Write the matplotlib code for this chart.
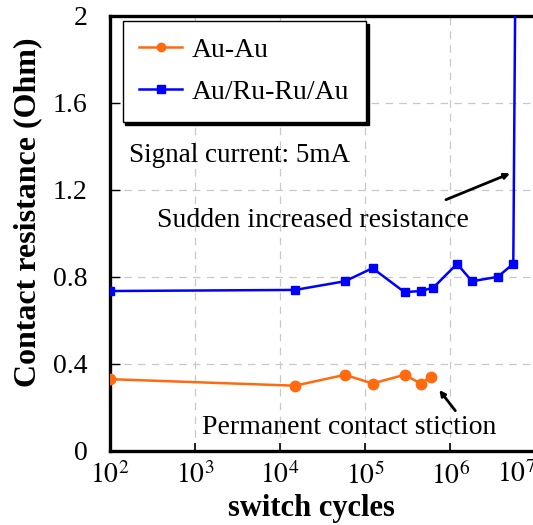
import matplotlib
matplotlib.use("Agg")
import matplotlib.pyplot as plt
import numpy as np

# data
cycles_au = [1e2, 1.5e4, 5.8e4, 1.22e5, 2.9e5, 4.5e5, 5.9e5]
res_au = [0.33, 0.30, 0.35, 0.31, 0.35, 0.31, 0.34]

cycles_ru = [1e2, 1.5e4, 5.8e4, 1.22e5, 2.9e5, 4.5e5, 6.3e5, 1.2e6, 1.8e6, 3.6e6, 5.5e6]
res_ru = [0.735, 0.74, 0.78, 0.84, 0.73, 0.735, 0.75, 0.86, 0.78, 0.80, 0.86]
# sudden rise at the end (no markers)
spike_cycles = [5.5e6, 5.65e6, 5.8e6]
spike_res = [0.86, 1.5, 2.1]

y_ticks = [0, 0.4, 0.8, 1.2, 1.6, 2.0]
y_labels = ["0", "0.4", "0.8", "1.2", "1.6", "2"]
x_ticks = [1e2, 1e3, 1e4, 1e5, 1e6, 1e7]
x_labels = ["$10^2$", "$10^3$", "$10^4$", "$10^5$", "$10^6$", ""]

orange = "#ff6a0e"
blue = "#0000ff"

plt.rcParams["font.family"] = ["Liberation Serif", "DejaVu Serif"]
plt.rcParams["mathtext.fontset"] = "stix"

fig = plt.figure(figsize=(5.33, 5.25), dpi=100)
ax = fig.add_axes([0.206, 0.141, 0.7985, 0.829])

ax.plot(cycles_au, res_au, color=orange, lw=1.8, marker="o", ms=7.5,
        label="Au-Au", zorder=3)
ax.plot(cycles_ru, res_ru, color=blue, lw=1.8, marker="s", ms=6.2,
        label="Au/Ru-Ru/Au", zorder=3)
ax.plot(spike_cycles, spike_res, color=blue, lw=1.8, zorder=3)

ax.set_xscale("log")
ax.set_xlim(1e2, 1e7)
ax.set_ylim(0, 2)
ax.set_xticks(x_ticks)
ax.set_xticklabels(x_labels)
ax.set_yticks(y_ticks)
ax.set_yticklabels(y_labels)

ax.grid(True, which="major", color="#c8c8c8", ls=(0, (6, 5)), lw=0.9)
ax.set_axisbelow(True)

for side in ["left", "bottom", "top"]:
    ax.spines[side].set_linewidth(2.4)
ax.spines["right"].set_visible(False)

ax.tick_params(axis="x", which="major", direction="in", length=6, width=1.2,
               labelsize=20, pad=8)
ax.tick_params(axis="x", which="minor", direction="in", length=4, width=1.0)
ax.tick_params(axis="y", which="major", direction="in", length=7, width=1.0,
               labelsize=20, pad=16)

# the 10^7 label sits squeezed against the right edge in the original
fig.text(497 / 533, 0.121, "$10^7$", fontsize=20, ha="left", va="top")

ax.set_xlabel("switch cycles", fontsize=22, fontweight="bold")
ax.xaxis.set_label_coords(0.473, -0.10)
ax.set_ylabel("Contact resistance (Ohm)", fontsize=23, fontweight="bold")
ax.yaxis.set_label_coords(-0.158, 0.548)

leg = ax.legend(loc="upper left", bbox_to_anchor=(0.03, 0.988), borderaxespad=0,
                fontsize=20, frameon=True, fancybox=False, handlelength=1.55,
                labelspacing=0.6, borderpad=0.6, handletextpad=0.35,
                shadow={"color": "black", "alpha": 1})
leg.get_frame().set_edgecolor("black")
leg.get_frame().set_linewidth(1.0)
for h in leg.legend_handles:
    h.set_markersize(6)

ax.text(1.7e2, 1.36, "Signal current: 5mA", fontsize=19.5, va="center")
ax.text(3.6e2, 1.06, "Sudden increased resistance", fontsize=20, va="center")
ax.annotate("", xy=(5.4e6, 1.28), xytext=(8.3e5, 1.15),
            arrowprops=dict(arrowstyle="-|>", color="black", lw=2,
                            mutation_scale=8))
ax.text(1.2e3, 0.11, "Permanent contact stiction", fontsize=20, va="center")
ax.annotate("", xy=(7.1e5, 0.29), xytext=(1.2e6, 0.175),
            arrowprops=dict(arrowstyle="-|>", color="black", lw=2,
                            mutation_scale=8))

fig.savefig("out.png", dpi=100)
